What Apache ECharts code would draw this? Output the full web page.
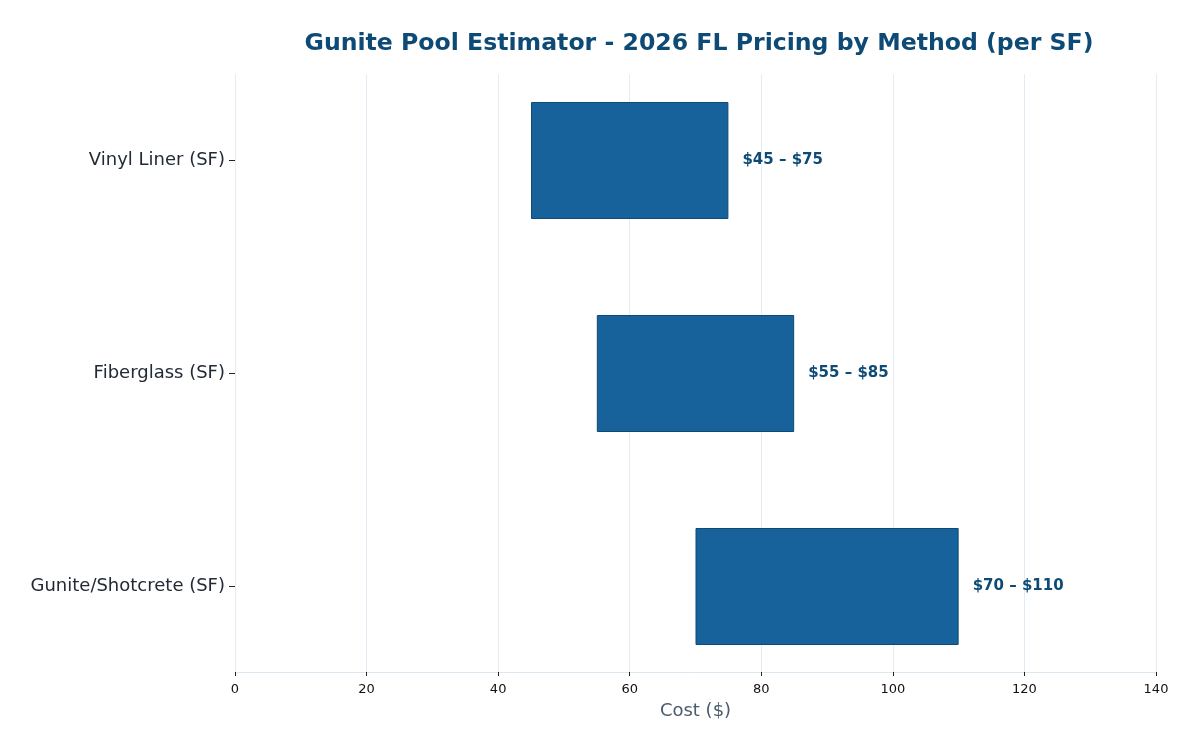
<!DOCTYPE html>
<html>
<head>
<meta charset="utf-8">
<script src="https://cdn.jsdelivr.net/npm/echarts@6/dist/echarts.min.js"></script>
<style>
  html, body { margin: 0; padding: 0; background: #fff; }
  #chart { width: 1200px; height: 750px; }
</style>
</head>
<body>
<div id="chart"></div>
<script>
// categories, top to bottom
const methods = ['Vinyl Liner (SF)', 'Fiberglass (SF)', 'Gunite/Shotcrete (SF)'];
const lowCost = [45, 55, 70];
const highCost = [75, 85, 110];
const xTicks = [0, 20, 40, 60, 80, 100, 120, 140];

const chart = echarts.init(document.getElementById('chart'));

const spans = highCost.map((h, i) => h - lowCost[i]);
const font = 'DejaVu Sans';

const option = {
  animation: false,
  title: {
    text: 'Gunite Pool Estimator - 2026 FL Pricing by Method (per SF)',
    left: 694,
    textAlign: 'center',
    top: 27,
    textStyle: { fontFamily: font, fontWeight: 'bold', fontSize: 23.6, color: '#0d4a75' }
  },
  // grid 0: frame, x axis and vertical grid lines
  // grid 1: the bars, with the category band padded like the original
  grid: [
    { left: 235, right: 44, top: 74, bottom: 78 },
    { left: 235, right: 44, top: 54, bottom: 57 }
  ],
  xAxis: [
    {
      gridIndex: 0,
      type: 'value',
      min: xTicks[0],
      max: xTicks[xTicks.length - 1],
      interval: 20,
      name: 'Cost ($)',
      nameLocation: 'middle',
      nameGap: 30,
      nameTextStyle: { fontFamily: font, fontSize: 18, color: '#4a5b6c' },
      axisLine: { show: true, lineStyle: { color: '#dde7ef' } },
      axisTick: { show: true, length: 4, lineStyle: { color: '#222' } },
      axisLabel: { fontFamily: font, fontSize: 13, color: '#111', margin: 11 },
      splitLine: { show: true, lineStyle: { color: '#e3ecf4', width: 1 } }
    },
    {
      gridIndex: 1,
      type: 'value',
      min: xTicks[0],
      max: xTicks[xTicks.length - 1],
      show: false,
      splitLine: { show: false }
    }
  ],
  yAxis: [
    {
      gridIndex: 0,
      type: 'value',
      show: false,
      splitLine: { show: false }
    },
    {
      gridIndex: 1,
      type: 'category',
      data: methods,
      inverse: true,
      axisLine: { show: false },
      axisTick: { show: true, length: 6, alignWithLabel: true, lineStyle: { color: '#222' } },
      axisLabel: { fontFamily: font, fontSize: 18, color: '#222a35', margin: 10 },
      splitLine: { show: false }
    }
  ],
  series: [
    {
      type: 'bar',
      xAxisIndex: 1,
      yAxisIndex: 1,
      stack: 'range',
      data: lowCost,
      barWidth: 117,
      itemStyle: { color: 'transparent' },
      silent: true
    },
    {
      type: 'bar',
      xAxisIndex: 1,
      yAxisIndex: 1,
      stack: 'range',
      data: spans,
      barWidth: 117,
      itemStyle: { color: '#17629a', borderColor: '#0d4a75', borderWidth: 1 },
      label: {
        show: true,
        position: 'right',
        distance: 14,
        fontFamily: font,
        fontWeight: 'bold',
        fontSize: 15,
        color: '#0d4a75',
        formatter: p => '$' + lowCost[p.dataIndex] + ' – $' + highCost[p.dataIndex]
      }
    }
  ]
};

chart.setOption(option);
</script>
</body>
</html>
